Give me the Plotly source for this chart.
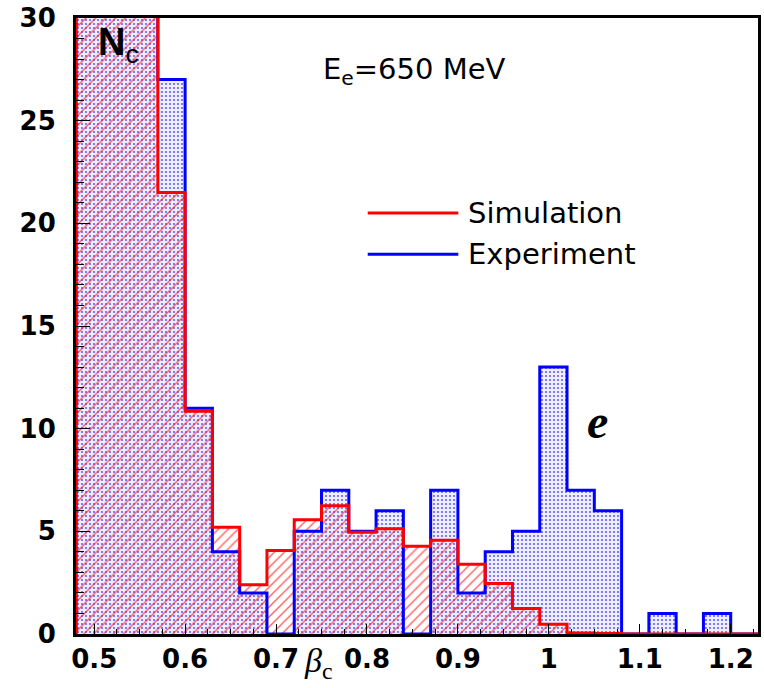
import numpy as np
import plotly.graph_objects as go

# ---- data ----
bin_start = 0.48
bin_width = 0.03
# Simulation (red) and Experiment (blue) bin contents; first three bins exceed the 30 scale
simulation = [42, 38, 34, 21.5, 10.85, 5.2, 2.4, 4.07, 5.56, 6.25, 4.96, 5.12, 4.27,
              4.56, 3.4, 2.46, 1.24, 0.48, 0.05, 0.02, 0, 0, 0, 0, 0]
experiment = [40, 36, 33, 27, 11, 4, 2, 0, 5, 7, 5, 6, 0,
              7, 2, 4, 5, 13, 7, 6, 0, 1, 0, 1, 0]
x_tickvals = [0.5, 0.6, 0.7, 0.8, 0.9, 1.0, 1.1, 1.2]
x_ticktext = ["0.5", "0.6", "0.7", "0.8", "0.9", "1", "1.1", "1.2"]
y_tickvals = [0, 5, 10, 15, 20, 25, 30]

n = len(simulation)
edges = bin_start + bin_width * np.arange(n + 1)


def step_xy(vals):
    xs = [edges[0]] + list(edges[:n]) + [edges[n]]
    ys = [0] + list(vals) + [0]
    return xs, ys


RED = "#ff0000"
BLUE = "#0000ff"

fig = go.Figure()
xe, ye = step_xy(experiment)
xs, ys = step_xy(simulation)

# fills
fig.add_trace(go.Scatter(x=xe, y=ye, mode="lines", line=dict(width=0, shape="hv"),
                         fill="tozeroy", fillcolor="#eeeeff",
                         fillpattern=dict(shape=".", fgcolor="rgba(40,40,255,0.8)", bgcolor="#eeeeff",
                                          size=4, solidity=0.18, fillmode="replace"),
                         showlegend=False, hoverinfo="skip"))
fig.add_trace(go.Scatter(x=xs, y=ys, mode="lines", line=dict(width=0, shape="hv"),
                         fill="tozeroy", fillcolor=RED,
                         fillpattern=dict(shape="/", fgcolor="rgba(255,30,30,0.7)",
                                          bgcolor="rgba(0,0,0,0)",
                                          size=7, solidity=0.2, fillmode="replace"),
                         showlegend=False, hoverinfo="skip"))
# outlines
fig.add_trace(go.Scatter(x=xe, y=ye, mode="lines", line=dict(color=BLUE, width=3, shape="hv"),
                         name="Experiment", showlegend=False))
fig.add_trace(go.Scatter(x=xs, y=ys, mode="lines", line=dict(color=RED, width=3, shape="hv"),
                         name="Simulation", showlegend=False))

tickfont = dict(family="DejaVu Sans", size=26, color="black", weight="bold")

fig.update_xaxes(range=[edges[0], edges[-1]], tickvals=x_tickvals, ticktext=x_ticktext,
                 ticks="inside", ticklen=10, tickwidth=1, tickcolor="black",
                 minor=dict(dtick=0.025, tick0=0.5, ticks="inside", ticklen=5, tickcolor="black"),
                 showline=True, linecolor="black", linewidth=3, mirror=True,
                 showgrid=False, zeroline=False, tickfont=tickfont)
fig.update_yaxes(range=[0, 30], tickvals=y_tickvals,
                 ticks="inside", ticklen=14, tickwidth=1, tickcolor="black",
                 minor=dict(dtick=1, ticks="inside", ticklen=8, tickcolor="black"),
                 showline=True, linecolor="black", linewidth=3, mirror=True,
                 showgrid=False, zeroline=False, tickfont=tickfont, ticklabelstandoff=12)

W, H = 764, 688
L, R, T, B = 76, 3, 15, 54
pw, ph = W - L - R, H - T - B


def px(xp):
    return (xp - L) / pw


def py(yp):
    return (H - B - yp) / ph


annots = [
    dict(text="<b>N</b><sub>c</sub>", x=px(96), y=py(42), xanchor="left", yanchor="middle",
         font=dict(family="Liberation Sans", size=38, color="black")),
    dict(text="E<sub>e</sub>=650 MeV", x=px(416), y=py(68), xanchor="center", yanchor="middle",
         font=dict(family="DejaVu Sans", size=29, color="black")),
    dict(text="Simulation", x=px(468), y=py(211), xanchor="left", yanchor="middle",
         font=dict(family="DejaVu Sans", size=29, color="black")),
    dict(text="Experiment", x=px(468), y=py(252), xanchor="left", yanchor="middle",
         font=dict(family="DejaVu Sans", size=29, color="black")),
    dict(text="<b><i>e</i></b>", x=px(600), y=py(420), xanchor="center", yanchor="middle",
         font=dict(family="Liberation Serif", size=48, color="black")),
    dict(text="<i>β</i><sub>c</sub>", x=px(320), y=py(663), xanchor="center", yanchor="middle",
         font=dict(family="Liberation Serif", size=34, color="black")),
]
for a in annots:
    a.update(xref="paper", yref="paper", showarrow=False)

shapes = [
    dict(type="line", xref="paper", yref="paper", x0=px(369), x1=px(460), y0=py(211), y1=py(211),
         line=dict(color=RED, width=3)),
    dict(type="line", xref="paper", yref="paper", x0=px(369), x1=px(460), y0=py(252.5), y1=py(252.5),
         line=dict(color=BLUE, width=3)),
]

fig.update_layout(width=W, height=H, margin=dict(l=L, r=R, t=T, b=B, pad=0),
                  paper_bgcolor="white", plot_bgcolor="white",
                  annotations=annots, shapes=shapes, showlegend=False)

fig.write_html("out.html")
